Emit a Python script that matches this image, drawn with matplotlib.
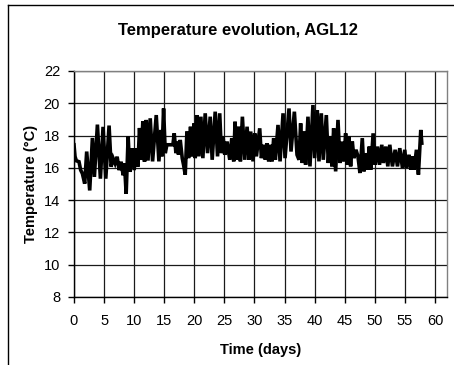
import matplotlib
matplotlib.use("Agg")
import matplotlib.pyplot as plt
from matplotlib.lines import Line2D

plt.rcParams['font.family'] = ['Liberation Sans', 'DejaVu Sans']

# Turning points of the temperature trace
days = [0.0, 0.17, 0.39, 0.83, 1.11, 1.39, 1.78, 2.11, 2.61, 3.06, 3.39, 3.89, 4.39, 4.83,
        5.28, 5.83, 6.17, 6.5, 6.83, 7.17, 7.5, 7.83, 8.17, 8.39, 8.67, 9.0, 9.28, 9.67,
        10.0, 10.33, 10.61, 10.89, 11.17, 11.44, 11.72, 12.0, 12.3, 12.67, 13.06, 13.67,
        14.11, 14.45, 14.61, 14.89, 15.17, 15.44, 16.44, 16.66, 16.94, 17.16, 17.38, 17.66,
        17.99, 18.21, 18.49, 18.77, 19.04, 19.37, 19.65, 19.98, 20.15, 20.43, 20.76, 21.09,
        21.42, 21.81, 22.2, 22.64, 22.97, 23.47, 23.86, 24.22, 24.5, 24.78, 25.06, 25.44,
        25.89, 26.22, 26.55, 26.77, 27.05, 27.33, 27.66, 27.99, 28.38, 28.77, 29.1, 29.37,
        29.76, 30.04, 30.32, 30.87, 31.15, 31.53, 31.81, 32.09, 32.36, 32.64, 32.92, 33.19,
        33.47, 33.91, 34.25, 34.75, 35.08, 35.74, 36.07, 36.63, 37.07, 37.4, 37.67, 37.95,
        38.23, 38.5, 38.89, 39.22, 39.72, 40.0, 40.44, 40.72, 41.11, 41.44, 41.94, 42.27,
        42.55, 42.88, 43.16, 43.49, 43.88, 44.21, 44.54, 44.87, 45.15, 45.43, 45.7, 45.98,
        46.26, 46.53, 46.87, 47.2, 47.53, 47.92, 48.19, 48.47, 48.75, 49.08, 49.34, 49.72,
        50.06, 50.44, 50.78, 51.16, 51.44, 51.83, 52.16, 52.49, 52.93, 53.38, 53.77, 54.15,
        54.6, 54.98, 55.26, 55.7, 55.98, 56.26, 56.53, 56.92, 57.25, 57.64, 57.81]
temps = [17.43, 16.7, 16.44, 16.38, 15.86, 15.65, 15.02, 17.01, 14.6, 17.85, 15.44, 18.68, 15.33, 18.54,
         15.33, 18.62, 16.07, 16.59, 16.28, 16.69, 15.86, 16.38, 15.54, 16.28, 14.39, 17.95, 15.75, 17.22,
         15.86, 17.22, 16.07, 18.47, 16.49, 18.89, 16.38, 18.97, 16.45, 19.07, 16.4, 19.27,
         16.4, 18.35, 16.71, 19.68, 16.91, 17.43, 17.43, 18.14, 16.91, 17.63, 16.81, 17.73,
         16.6, 16.19, 15.58, 18.25, 16.6, 18.55, 16.71, 18.76, 16.6, 19.27, 16.71, 19.17,
         16.6, 19.38, 16.91, 19.17, 16.5, 19.48, 16.71, 19.38, 16.91, 17.94, 16.81, 17.63,
         16.5, 17.84, 16.4, 18.86, 16.5, 18.55, 16.4, 19.17, 16.5, 18.55, 16.5, 18.25,
         16.4, 18.14, 16.71, 18.45, 16.6, 17.43, 16.5, 17.53, 16.4, 17.43, 16.4, 17.84,
         16.5, 18.66, 16.4, 19.38, 16.6, 19.68, 17.01, 19.48, 16.81, 16.5, 18.76, 16.3,
         18.25, 16.19, 19.17, 16.09, 19.89, 16.6, 19.58, 16.4, 19.38, 16.5, 19.27, 16.3,
         17.94, 16.09, 18.45, 15.78, 18.97, 16.3, 17.63, 16.4, 18.14, 16.19, 17.94, 16.09,
         17.63, 16.6, 17.12, 16.71, 15.68, 17.84, 15.78, 16.91, 15.89, 17.32, 15.89, 18.14,
         16.19, 17.32, 16.19, 17.43, 16.3, 17.32, 16.09, 17.43, 16.09, 17.12, 16.09, 17.22,
         15.99, 17.12, 15.99, 16.81, 15.89, 16.71, 15.89, 17.12, 15.58, 18.35, 17.53]

x_ticks = [0, 5, 10, 15, 20, 25, 30, 35, 40, 45, 50, 55, 60]
y_ticks = [8, 10, 12, 14, 16, 18, 20, 22]

fig = plt.figure(figsize=(4.54, 3.65), dpi=100)
ax = fig.add_axes([74/454, 1-297/365, (447-74)/454, (297-71)/365])

ax.plot(days, temps, color='black', lw=2.6, solid_joinstyle='miter', zorder=3)

ax.set_xlim(0, 62)
ax.set_ylim(8, 22)
ax.set_xticks(x_ticks)
ax.set_yticks(y_ticks)
ax.grid(True, color='#1a1a1a', lw=0.9)
ax.set_axisbelow(True)
ax.tick_params(direction='out', length=4, width=1, labelsize=10.5, colors='black')
ax.tick_params(axis='x', pad=8)
ax.tick_params(axis='y', pad=6)
for s in ['left', 'bottom']:
    ax.spines[s].set_color('black')
    ax.spines[s].set_linewidth(1)
for s in ['top', 'right']:
    ax.spines[s].set_color('#808080')
    ax.spines[s].set_linewidth(1)

ax.set_xlabel('Time (days)', fontsize=10.5, fontweight='bold', labelpad=11)
ax.set_ylabel('Temperature (°C)', fontsize=10.5, fontweight='bold', labelpad=4)
fig.text(238/454, 1-30/365, 'Temperature evolution, AGL12', ha='center', va='center',
         fontsize=12, fontweight='bold')

# outer chart frame (cut at right and bottom)
fig.add_artist(Line2D([8/454, 8/454], [0, 1-5/365], transform=fig.transFigure, color='black', lw=1))
fig.add_artist(Line2D([8/454, 1], [1-5/365, 1-5/365], transform=fig.transFigure, color='black', lw=1))

fig.savefig('out.png', dpi=100)
